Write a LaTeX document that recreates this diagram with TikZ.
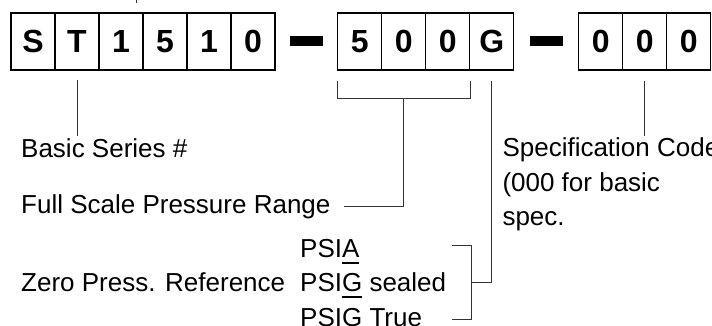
\documentclass[tikz,border=0pt]{standalone}
\usepackage{fontspec}
\setmainfont{Liberation Sans}
\newcommand\myul[1]{\setbox0\hbox{#1}\rlap{\rule[-6.5pt]{\wd0}{1.8pt}}#1}
\begin{document}
\begin{tikzpicture}[x=1pt,y=-1pt,
  cell/.style={draw=black,line width=1.2pt,minimum width=44pt,minimum height=57pt,inner sep=0pt,
    font=\fontsize{32}{38}\selectfont\bfseries},
  bar/.style={fill=black,minimum width=33pt,minimum height=10pt,inner sep=0pt},
  lbl/.style={anchor=base west,inner sep=0pt,font=\fontsize{26}{31}\selectfont},
  conn/.style={line width=1pt,draw=black!80}]
\useasboundingbox (0,0) rectangle (712,325);
% first group
\node[cell] (c1) at (33,41.5) {S};
\node[cell] (c2) at (77,41.5) {T};
\node[cell] (c3) at (121,41.5) {1};
\node[cell] (c4) at (165,41.5) {5};
\node[cell] (c5) at (209,41.5) {1};
\node[cell] (c6) at (253,41.5) {0};
\node[bar] (bar1) at (306.5,41) {};
% second group
\node[cell] (d1) at (359.7,41.5) {5};
\node[cell] (d2) at (403.7,41.5) {0};
\node[cell] (d3) at (447.7,41.5) {0};
\node[cell] (d4) at (491.7,41.5) {G};
\node[bar] (bar2) at (546.7,41) {};
% third group
\node[cell] (e1) at (600.7,41.5) {0};
\node[cell] (e2) at (644.7,41.5) {0};
\node[cell] (e3) at (688.7,41.5) {0};
% labels
\node[lbl] (basic) at (21,157.3) {Basic Series \#};
\node[lbl] (full) at (21,213.5) {Full Scale Pressure Range};
\node[lbl] (zero) at (21,291.7) {Zero Press. Reference};
\node[lbl] (psia) at (300,257.3) {PSI\myul{A}};
\node[lbl] (psigs) at (300,291.7) {PSI\myul{G} sealed};
\node[lbl] (psigt) at (300,326.2) {PSIG True};
\node[lbl] (spec1) at (502.3,156.7) {Specification Code};
\node[lbl] (spec2) at (502.3,191.3) {(000 for basic};
\node[lbl] (spec3) at (502.3,225.8) {spec.};
% connectors
\coordinate (stub) at (136.7,0);
\draw[conn] (stub) -- ++(0,3);
\coordinate (bt) at (c2.south |- basic.north);
\draw[conn] ([yshift=-9pt]c2.south) -- ([yshift=2.5pt]bt);
\draw[conn] ([yshift=-10pt]d1.south west) -- ([yshift=-28pt]d1.south west)
  -- ([yshift=-28pt]d3.south east) -- ([yshift=-10pt]d3.south east);
\draw[conn] ([yshift=-28pt]d2.south) |- ([xshift=13pt]full.east);
\coordinate (ptop) at (451.7,245.7);
\coordinate (pmid) at (471.7,282.7);
\coordinate (pbot) at (451.7,319.3);
\draw[conn] (ptop) -| (pmid) |- (pbot);
\draw[conn] ([yshift=-10pt]d4.south) |- (pmid);
\coordinate (st) at (e2.south |- spec1.north);
\draw[conn] ([yshift=-10pt]e2.south) -- ([yshift=1.5pt]st);
\end{tikzpicture}
\end{document}
